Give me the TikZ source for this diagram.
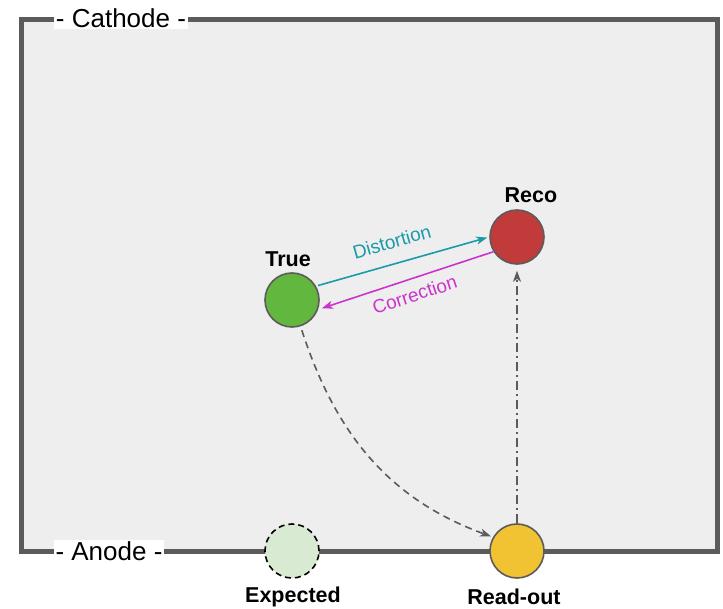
\documentclass[tikz,border=0pt]{standalone}
\usepackage{fontspec}
\setmainfont{Liberation Sans}
\usetikzlibrary{positioning,arrows.meta}
\definecolor{wall}{HTML}{5B5B5B}
\definecolor{chamber}{HTML}{EEEEEE}
\definecolor{truegreen}{HTML}{62B73F}
\definecolor{recored}{HTML}{C23B3B}
\definecolor{expgreen}{HTML}{D9EAD3}
\definecolor{readyellow}{HTML}{F1C232}
\definecolor{distcol}{HTML}{1A9AAA}
\definecolor{corrcol}{HTML}{CC33CC}
\begin{document}
\begin{tikzpicture}[x=1pt,y=-1pt,>={Stealth[length=11pt,width=8pt,inset=3pt]},
    hit/.style={circle,draw=wall,line width=1.6pt,minimum size=54pt,inner sep=0pt},
    tag/.style={font=\fontsize{21.5}{24}\selectfont\bfseries},
    plate/.style={fill=white,inner sep=1.5pt,font=\fontsize{26}{29}\selectfont},
    link/.style={line width=1.6pt},
    small/.style={font=\fontsize{19}{22}\selectfont}]
    \useasboundingbox (0,0) rectangle (723,609);
    \draw[wall,fill=chamber,line width=5pt] (21.5,19.5) rectangle (717,551);
    \node[plate] (cathode) at (121,18) {- Cathode -};
    \node[plate] (anode) at (109,551) {- Anode -};
    \node[hit,fill=truegreen] (true) at (292,300) {};
    \node[hit,fill=recored] (reco) at (517,237) {};
    \node[hit,fill=expgreen,draw=black,dash pattern=on 6pt off 4pt] (expected) at (292,551) {};
    \node[hit,fill=readyellow] (readout) at (517,551) {};
    \node[tag] (truelbl) at (288,259) {True};
    \node[tag] (recolbl) at (531,195) {Reco};
    \node[tag] (explbl) at (293,597) {Expected};
    \node[tag] (readlbl) at (514,597) {Read-out};
    % distortion / correction
    \draw[link,distcol,->,shorten <=2pt,shorten >=2pt] (true.30) --
        node[small,sloped,above=11pt,xshift=-5pt] (distlbl) {Distortion} (reco.180);
    \draw[link,corrcol,<-,shorten <=4pt] (true.-20) --
        node[small,sloped,below=5pt,xshift=4pt] (corrlbl) {Correction} (reco.212);
    % drift paths
    \draw[link,wall,->,dash pattern=on 7pt off 5pt,shorten <=4pt,shorten >=2pt]
        (true.-72) to[out=-72,in=160] (readout.150);
    \draw[link,wall,->,dash pattern=on 9pt off 4pt on 2pt off 4pt,shorten >=6pt]
        (readout.north) -- (reco.south);
\end{tikzpicture}
\end{document}
